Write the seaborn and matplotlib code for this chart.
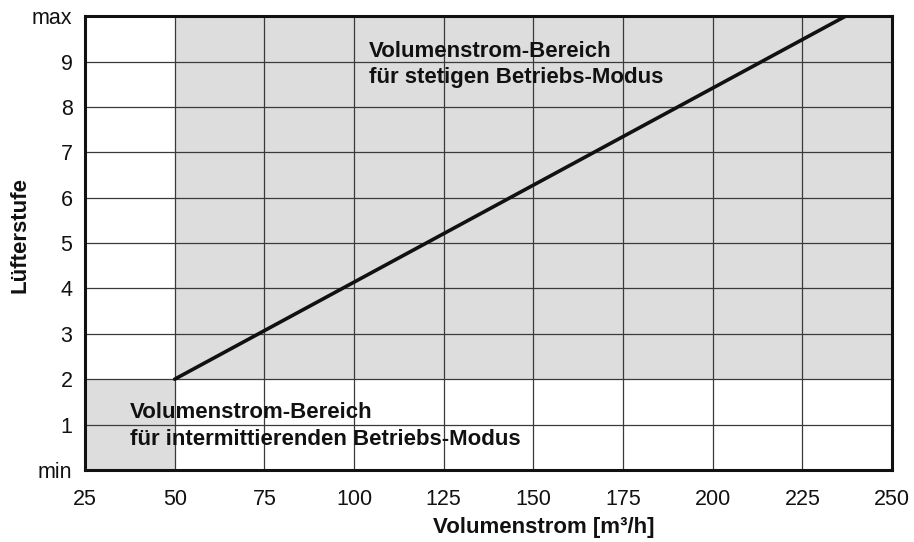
import matplotlib
matplotlib.use("Agg")
import matplotlib.pyplot as plt
import seaborn as sns
import pandas as pd

# Axis ticks
x_ticks = [25, 50, 75, 100, 125, 150, 175, 200, 225, 250]
y_ticks = [0, 1, 2, 3, 4, 5, 6, 7, 8, 9, 10]
y_tick_labels = ["min", "1", "2", "3", "4", "5", "6", "7", "8", "9", "max"]

# Characteristic line: fan level vs. volume flow
flow = [50, 237]
level = [2, 10]

# Operating ranges (x from, x to, y from, y to)
continuous_range = (50, 250, 2, 10)
intermittent_range = (25, 50, 0, 2)

# Range captions (two lines each)
continuous_caption = ["Volumenstrom-Bereich", "für stetigen Betriebs-Modus"]
intermittent_caption = ["Volumenstrom-Bereich", "für intermittierenden Betriebs-Modus"]

sns.set_style("white")
plt.rcParams["font.family"] = ["Liberation Sans", "DejaVu Sans"]

fig = plt.figure(figsize=(9.14, 5.42), dpi=100)
ax = fig.add_axes([0.093, 0.133, 0.883, 0.837])

fill_color = "#dddddd"
for x0, x1, y0, y1 in (continuous_range, intermittent_range):
    ax.fill_between([x0, x1], [y0, y0], [y1, y1], color=fill_color, lw=0, zorder=0)

# grid
for xv in x_ticks[1:-1]:
    ax.axvline(xv, color="#3a3a3a", lw=0.9, zorder=1)
for yv in y_ticks[1:-1]:
    ax.axhline(yv, color="#3a3a3a", lw=0.9, zorder=1)

df = pd.DataFrame({"flow": flow, "level": level})
sns.lineplot(data=df, x="flow", y="level", ax=ax, color="#111111", lw=2.6, zorder=3)

ax.set_xlim(25, 250)
ax.set_ylim(0, 10)
ax.set_xticks(x_ticks)
ax.set_yticks(y_ticks)
ax.set_yticklabels(y_tick_labels)
ax.tick_params(axis="both", labelsize=15.5, colors="#111111", length=3, width=0.9)
ax.tick_params(axis="x", pad=14, length=0)
ax.tick_params(axis="y", pad=6)

for side in ax.spines.values():
    side.set_visible(True)
    side.set_color("#111111")
    side.set_linewidth(2.2)
    side.set_zorder(4)

ax.set_xlabel("Volumenstrom [m³/h]", fontsize=16, fontweight="bold", color="#111111")
ax.set_ylabel("Lüfterstufe", fontsize=16, fontweight="bold", color="#111111")
ax.xaxis.set_label_coords(0.569, -0.104, transform=ax.transAxes)
ax.yaxis.set_label_coords(-0.068, 0.518, transform=ax.transAxes)

text_style = dict(fontsize=16, fontweight="bold", color="#111111",
                  va="baseline", ha="left", zorder=5)
for line, yv in zip(continuous_caption, [9.10, 8.52]):
    ax.text(104.2, yv, line, **text_style)
for line, yv in zip(intermittent_caption, [1.145, 0.55]):
    ax.text(37.5, yv, line, **text_style)

fig.savefig("out.png", dpi=100)
